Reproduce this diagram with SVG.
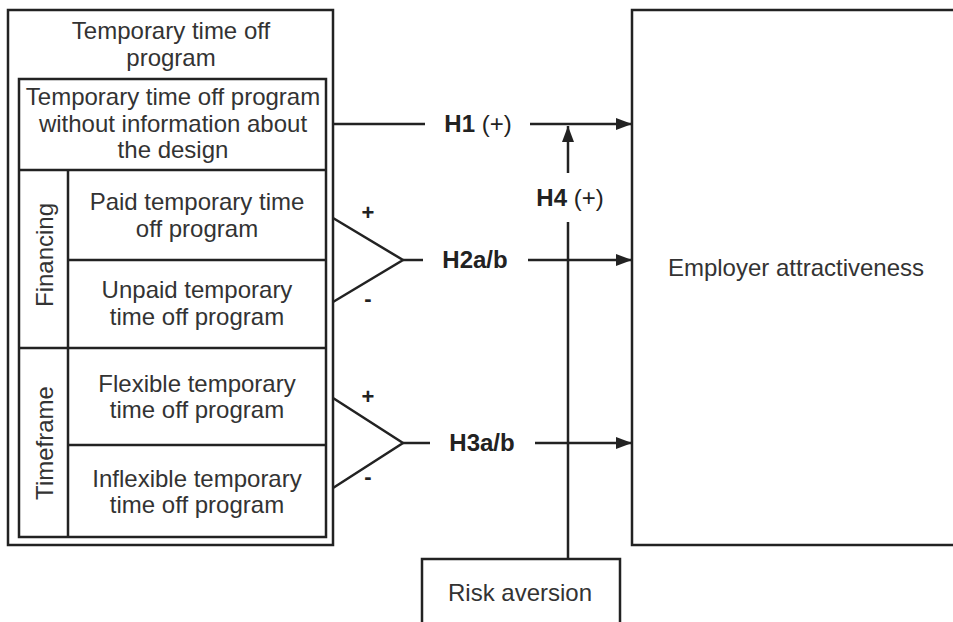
<svg xmlns="http://www.w3.org/2000/svg" width="953" height="622" viewBox="0 0 953 622">
<defs>
<style>
.box{fill:none;stroke:#222;stroke-width:2.5}
.ln{fill:none;stroke:#222;stroke-width:2.5}
.t{font-family:"Liberation Sans",Arial,sans-serif;font-size:24px;fill:#333;text-anchor:middle}
.h{font-family:"Liberation Sans",Arial,sans-serif;font-size:24px;fill:#222;text-anchor:middle}
.b{font-weight:bold}
.s{font-family:"Liberation Sans",Arial,sans-serif;font-size:22px;font-weight:bold;fill:#222;text-anchor:middle}
</style>
<marker id="arr" viewBox="0 0 16 12" refX="16" refY="6" markerWidth="16" markerHeight="12" markerUnits="userSpaceOnUse" orient="auto">
<path d="M0,0 L16,6 L0,12 Z" fill="#222"/>
</marker>
</defs>
<rect width="953" height="622" fill="#fff"/>

<g id="program">
<rect class="box" x="8" y="10" width="325" height="535"/>
<text class="t" x="171" y="39">Temporary time off</text>
<text class="t" x="171" y="66">program</text>
<rect class="box" x="19" y="79" width="307" height="458"/>
</g>

<g id="no-info">
<line class="ln" x1="19" y1="170" x2="326" y2="170"/>
<text class="t" x="173" y="105">Temporary time off program</text>
<text class="t" x="173" y="132">without information about</text>
<text class="t" x="173" y="158">the design</text>
</g>

<g id="financing">
<line class="ln" x1="68" y1="170" x2="68" y2="537"/>
<text class="t" transform="translate(53,255) rotate(-90)">Financing</text>
</g>

<g id="paid">
<text class="t" x="197" y="210">Paid temporary time</text>
<text class="t" x="197" y="237">off program</text>
</g>

<g id="unpaid">
<line class="ln" x1="68" y1="260" x2="326" y2="260"/>
<text class="t" x="197" y="298">Unpaid temporary</text>
<text class="t" x="197" y="325">time off program</text>
</g>

<g id="timeframe">
<line class="ln" x1="19" y1="348" x2="326" y2="348"/>
<text class="t" transform="translate(53,443) rotate(-90)">Timeframe</text>
</g>

<g id="flexible">
<text class="t" x="197" y="392">Flexible temporary</text>
<text class="t" x="197" y="418">time off program</text>
</g>

<g id="inflexible">
<line class="ln" x1="68" y1="445" x2="326" y2="445"/>
<text class="t" x="197" y="487">Inflexible temporary</text>
<text class="t" x="197" y="513">time off program</text>
</g>

<g id="employer">
<rect class="box" x="632" y="10" width="330" height="535"/>
<text class="t" x="796" y="276">Employer attractiveness</text>
</g>

<g id="risk">
<rect class="box" x="422" y="559" width="198" height="80"/>
<text class="t" x="520" y="601">Risk aversion</text>
</g>

<g id="connectors">
<line class="ln" x1="333" y1="124" x2="425" y2="124"/>
<line class="ln" x1="530" y1="124" x2="632" y2="124" marker-end="url(#arr)"/>
<polyline class="ln" points="333,218 403,260 333,302"/>
<line class="ln" x1="403" y1="260" x2="423" y2="260"/>
<line class="ln" x1="528" y1="260" x2="632" y2="260" marker-end="url(#arr)"/>
<polyline class="ln" points="333,398 403,443 333,488"/>
<line class="ln" x1="403" y1="443" x2="430" y2="443"/>
<line class="ln" x1="535" y1="443" x2="632" y2="443" marker-end="url(#arr)"/>
<line class="ln" x1="568" y1="559" x2="568" y2="222"/>
<line class="ln" x1="568" y1="173" x2="568" y2="126" marker-end="url(#arr)"/>
</g>

<g id="labels">
<text class="h" x="478" y="132"><tspan class="b">H1</tspan> (+)</text>
<text class="h" x="475" y="268"><tspan class="b">H2a/b</tspan></text>
<text class="h" x="482" y="451"><tspan class="b">H3a/b</tspan></text>
<text class="h" x="570" y="206"><tspan class="b">H4</tspan> (+)</text>
<text class="s" x="368" y="220">+</text>
<text class="s" x="368" y="306">-</text>
<text class="s" x="368" y="404">+</text>
<text class="s" x="368" y="484">-</text>
</g>
</svg>
